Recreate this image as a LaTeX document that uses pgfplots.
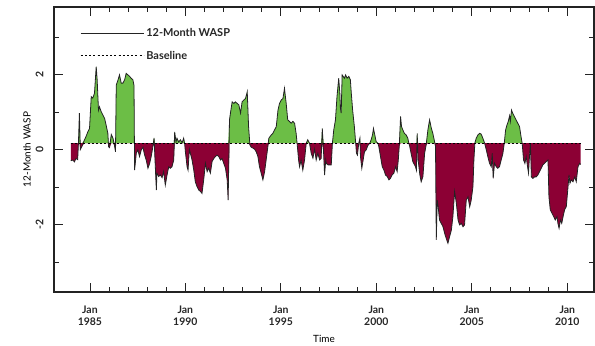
\documentclass[border=0pt]{standalone}
\usepackage{pgfplots}
\pgfplotsset{compat=1.18}
\usepackage{pgfplotstable}
\usepgfplotslibrary{fillbetween}
\usepackage{fontspec}
\setmainfont{Lato}
\definecolor{wgreen}{RGB}{108,190,70}
\definecolor{wred}{RGB}{140,0,52}
\definecolor{wline}{RGB}{35,35,35}
\pgfplotstableread{
x y
1984.00 -0.30
1984.10 -0.28
1984.19 -0.33
1984.27 -0.24
1984.36 -0.27
1984.40 0.17
1984.45 0.97
1984.50 0.00
1984.59 0.09
1984.71 0.25
1984.80 0.35
1984.89 0.47
1984.98 0.56
1985.07 1.41
1985.15 1.37
1985.24 1.50
1985.33 2.21
1985.38 1.86
1985.45 1.05
1985.50 1.14
1985.59 1.01
1985.68 0.92
1985.77 0.83
1985.85 0.65
1985.94 0.43
1985.98 0.07
1986.03 0.05
1986.12 0.40
1986.21 0.30
1986.29 0.10
1986.34 -0.06
1986.38 1.72
1986.47 1.85
1986.55 1.99
1986.64 1.77
1986.73 1.77
1986.82 1.86
1986.90 2.03
1986.99 1.99
1987.08 1.95
1987.16 1.90
1987.25 1.86
1987.31 1.71
1987.34 -0.55
1987.43 -0.10
1987.51 -0.01
1987.60 -0.19
1987.69 -0.01
1987.78 0.06
1987.86 -0.14
1987.95 -0.28
1988.04 -0.50
1988.13 -0.37
1988.21 -0.19
1988.30 0.08
1988.36 0.31
1988.41 -0.28
1988.48 -1.08
1988.51 -0.63
1988.60 -0.72
1988.69 -0.68
1988.78 -0.75
1988.86 -0.59
1988.95 -0.95
1989.04 -0.68
1989.13 -0.46
1989.21 -0.50
1989.30 -0.46
1989.39 -0.28
1989.44 0.47
1989.51 0.20
1989.56 0.30
1989.65 0.20
1989.74 0.26
1989.83 0.18
1989.91 0.30
1989.96 0.17
1990.00 -0.06
1990.09 -0.46
1990.14 -0.55
1990.21 0.01
1990.26 -0.10
1990.35 -0.28
1990.44 -0.55
1990.52 -0.86
1990.61 -0.99
1990.70 -1.08
1990.79 -1.12
1990.87 -1.17
1990.96 -0.81
1991.05 -0.37
1991.14 -0.59
1991.22 -0.50
1991.31 -0.63
1991.40 -0.32
1991.49 -0.24
1991.57 -0.19
1991.66 -0.15
1991.75 -0.19
1991.84 -0.28
1991.92 -0.24
1992.01 -0.37
1992.10 -0.50
1992.19 -0.81
1992.24 -1.35
1992.31 0.79
1992.36 0.97
1992.45 1.27
1992.54 1.23
1992.62 1.27
1992.71 1.23
1992.80 1.19
1992.89 0.97
1992.97 1.27
1993.06 1.32
1993.15 1.36
1993.24 1.54
1993.31 0.61
1993.38 0.12
1993.45 0.06
1993.53 0.04
1993.62 0.01
1993.71 -0.06
1993.80 -0.19
1993.88 -0.46
1993.97 -0.63
1994.06 -0.81
1994.15 -0.59
1994.23 -0.28
1994.32 0.08
1994.37 0.30
1994.50 0.39
1994.58 0.43
1994.67 0.52
1994.76 0.61
1994.85 1.05
1994.93 1.23
1995.02 1.32
1995.11 1.36
1995.19 1.63
1995.25 1.36
1995.28 1.23
1995.36 0.79
1995.45 0.75
1995.54 0.70
1995.63 0.75
1995.72 0.70
1995.80 0.43
1995.85 0.17
1995.93 -0.28
1995.98 -0.46
1996.06 -0.28
1996.15 -0.55
1996.24 -0.28
1996.33 0.17
1996.41 0.26
1996.50 0.17
1996.59 -0.10
1996.68 -0.23
1996.77 0.01
1996.85 -0.28
1996.94 -0.10
1997.03 -0.28
1997.11 -0.24
1997.17 0.56
1997.24 -0.10
1997.29 -0.68
1997.35 -0.28
1997.38 -0.37
1997.47 -0.41
1997.56 -0.41
1997.64 -0.41
1997.70 0.17
1997.77 0.52
1997.86 0.79
1997.94 1.41
1998.03 1.90
1998.09 1.50
1998.12 1.10
1998.16 0.97
1998.21 1.99
1998.26 1.95
1998.33 1.90
1998.39 1.99
1998.47 1.90
1998.56 1.95
1998.64 1.86
1998.69 1.50
1998.76 1.05
1998.85 0.61
1998.92 0.17
1998.96 -0.10
1999.01 -0.15
1999.08 0.17
1999.14 0.30
1999.17 -0.19
1999.24 -0.50
1999.31 -0.28
1999.38 -0.06
1999.47 -0.01
1999.55 0.10
1999.66 0.17
1999.73 0.26
1999.80 0.39
1999.85 0.56
1999.92 0.39
1999.99 0.21
2000.08 0.17
2000.13 0.08
2000.22 -0.19
2000.31 -0.46
2000.40 -0.55
2000.48 -0.68
2000.57 -0.72
2000.66 -0.81
2000.74 -0.77
2000.83 -0.68
2000.92 -0.63
2001.01 -0.46
2001.09 -0.59
2001.15 -0.28
2001.20 0.08
2001.27 0.88
2001.32 0.61
2001.39 0.52
2001.47 0.43
2001.56 0.39
2001.65 0.30
2001.70 0.17
2001.75 0.08
2001.82 -0.10
2001.91 -0.32
2002.00 -0.41
2002.05 -0.46
2002.10 -0.55
2002.14 0.43
2002.19 -0.28
2002.28 -0.68
2002.35 -0.86
2002.44 -0.72
2002.53 -0.10
2002.61 0.12
2002.70 0.52
2002.79 0.79
2002.88 0.57
2002.96 0.43
2003.05 0.21
2003.10 0.08
2003.14 -2.41
2003.19 -1.35
2003.24 -1.53
2003.31 -1.88
2003.40 -1.97
2003.49 -2.06
2003.58 -2.24
2003.66 -2.37
2003.75 -2.50
2003.84 -2.32
2003.93 -2.15
2004.01 -1.79
2004.10 -1.12
2004.19 -1.43
2004.28 -1.88
2004.36 -2.01
2004.45 -1.97
2004.54 -2.06
2004.62 -2.01
2004.71 -1.35
2004.80 -1.26
2004.89 -1.53
2004.97 -1.35
2005.06 -0.99
2005.11 -0.28
2005.16 0.17
2005.23 0.30
2005.32 0.39
2005.41 0.43
2005.49 0.41
2005.58 0.30
2005.67 0.17
2005.76 -0.01
2005.84 -0.19
2005.93 -0.37
2006.02 -0.46
2006.07 -0.10
2006.12 -0.77
2006.19 -0.37
2006.28 -0.46
2006.36 -0.50
2006.45 -0.46
2006.54 -0.28
2006.63 -0.10
2006.70 0.17
2006.77 0.52
2006.84 0.65
2006.91 0.75
2006.98 0.90
2007.02 0.75
2007.08 1.05
2007.15 0.96
2007.23 0.88
2007.32 0.79
2007.41 0.70
2007.50 0.61
2007.58 0.34
2007.64 0.16
2007.71 -0.28
2007.78 -0.37
2007.85 -0.19
2007.92 -0.46
2007.97 -0.63
2008.02 -0.19
2008.07 0.15
2008.12 -0.73
2008.20 -0.77
2008.29 -0.73
2008.37 -0.73
2008.46 -0.68
2008.55 -0.59
2008.64 -0.50
2008.72 -0.41
2008.81 -0.37
2008.90 -0.32
2008.99 -0.28
2009.04 -1.26
2009.11 -1.61
2009.20 -1.70
2009.29 -1.79
2009.37 -1.88
2009.46 -1.79
2009.51 -1.97
2009.57 -2.10
2009.64 -1.88
2009.71 -1.97
2009.78 -1.79
2009.86 -1.61
2009.95 -1.52
2010.04 -0.99
2010.09 -0.68
2010.14 -0.90
2010.21 -0.81
2010.30 -0.86
2010.39 -0.73
2010.47 -0.86
2010.56 -0.46
2010.65 -0.37
2010.70 -0.40
}\wasp
\begin{document}
\begin{tikzpicture}
\begin{axis}[
  scale only axis,
  width=540bp, height=285bp,
  xmin=1983.12, xmax=2011.4,
  ymin=-3.8, ymax=3.8,
  xtick={1985,1990,1995,2000,2005,2010},
  xticklabels={{Jan\\1985},{Jan\\1990},{Jan\\1995},{Jan\\2000},{Jan\\2005},{Jan\\2010}},
  minor x tick num=4,
  ytick={-2,0,2},
  minor ytick={-3,-1,1,3},
  tick align=inside,
  major tick length=9bp,
  minor tick length=5bp,
  tick style={wline, line width=0.8pt},
  axis line style={wline, line width=1.3pt},
  /pgf/number format/assume math mode=true,
  tick label style={font=\bfseries\fontsize{10.5}{12.5}\selectfont, text=black!85},
  xticklabel style={align=center},
  xticklabel shift=10bp,
  yticklabel style={rotate=90, anchor=south},
  yticklabel shift=7bp,
  label style={font=\bfseries\fontsize{10.5}{12.5}\selectfont, text=black!85},
  xlabel={Time},
  ylabel={12-Month WASP},
  every axis x label/.style={at={(axis description cs:0.5,-0.165)}, anchor=center},
  every axis y label/.style={at={(axis description cs:-0.05,0.5)}, rotate=90, anchor=center},
  legend style={at={(axis description cs:0.043,0.94)}, anchor=north west, draw=none, fill=none,
    font=\bfseries\fontsize{11}{13}\selectfont, text=black!85, row sep=9bp},
  legend cell align=left,
  legend image code/.code={\draw[#1] (0bp,0bp) -- (57bp,0bp); \path (0bp,0bp) -- (63bp,0bp);},
  clip=true,
]
\addplot[name path=P, draw=none, forget plot] table[x=x, y expr={max(\thisrow{y},0.17)}] {\wasp};
\addplot[name path=N, draw=none, forget plot] table[x=x, y expr={min(\thisrow{y},0.17)}] {\wasp};
\addplot[name path=B, draw=none, forget plot] coordinates {(1984.00,0.17) (2010.70,0.17)};
\addplot[fill=wgreen, draw=none, forget plot] fill between[of=P and B];
\addplot[fill=wred, draw=none, forget plot] fill between[of=N and B];
\addplot[wline, line width=0.8pt] table[x=x,y=y] {\wasp};
\addlegendentry{12-Month WASP}
\addplot[black, line width=0.9pt, dash pattern=on 2bp off 2.2bp] coordinates {(1984.00,0.17) (2010.70,0.17)};
\addlegendentry{Baseline}
\end{axis}
\pgfresetboundingbox
\path ([shift={(-54bp,-54bp)}]current axis.south west) rectangle ([shift={(1bp,7bp)}]current axis.north east);
\end{tikzpicture}
\end{document}
